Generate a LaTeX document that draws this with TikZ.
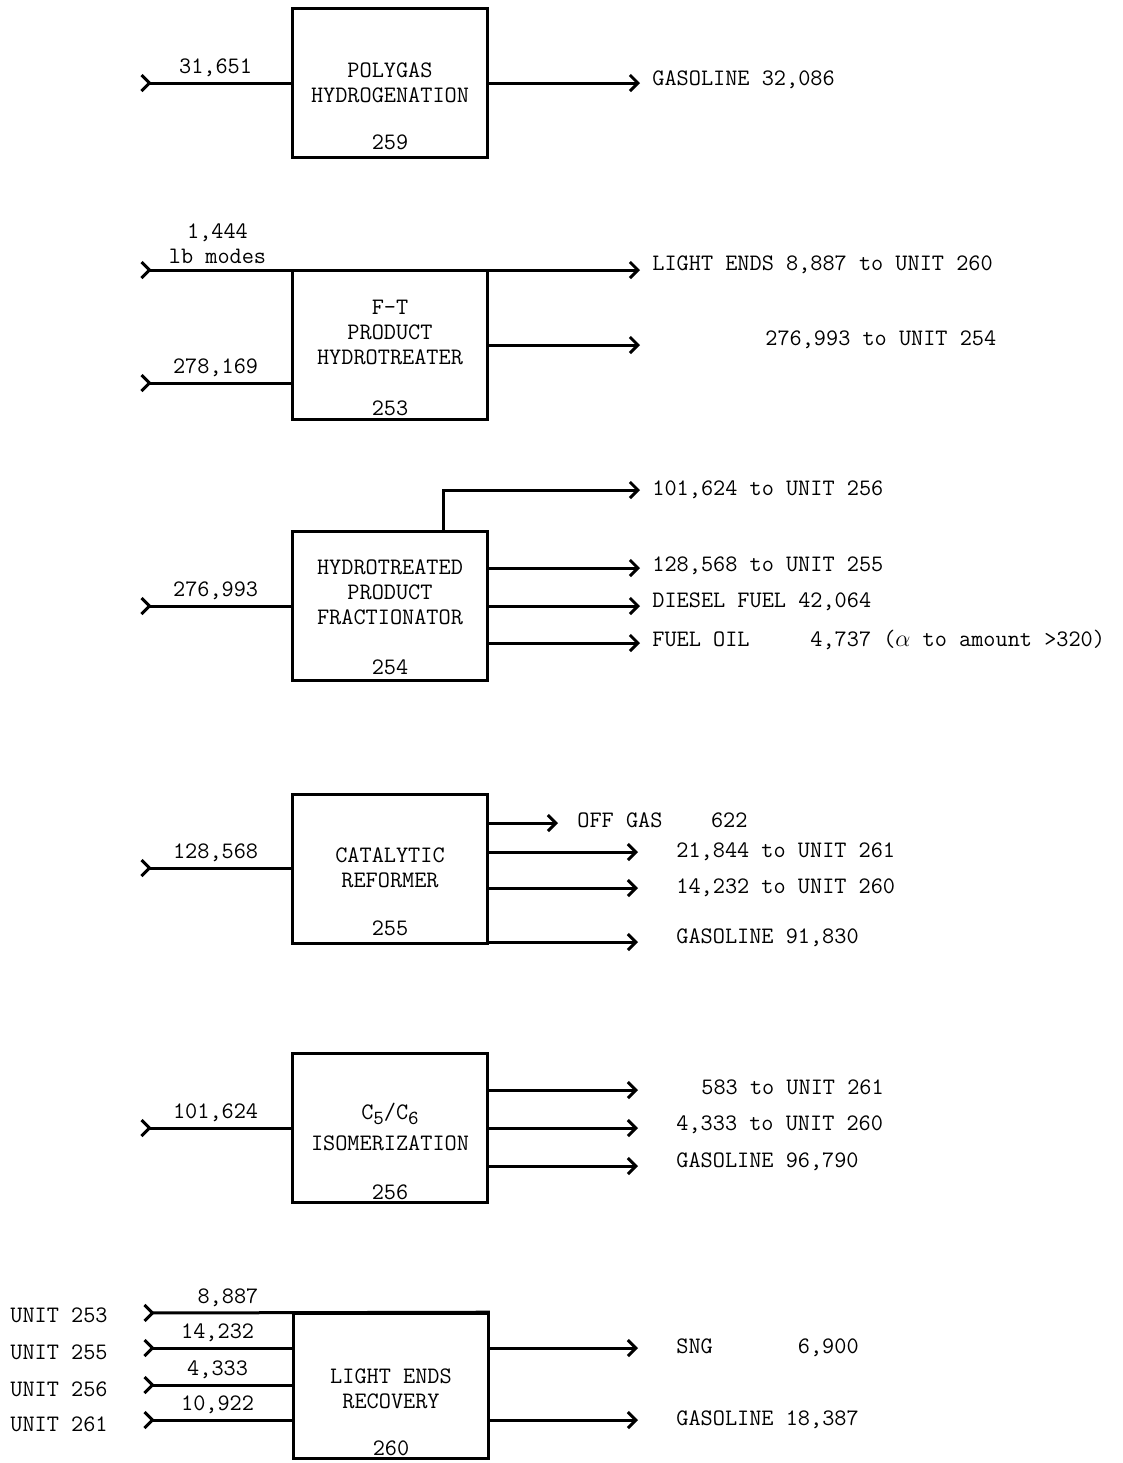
\documentclass[tikz,border=0pt]{standalone}
\usepackage{fontspec}
\usetikzlibrary{arrows.meta, positioning}

\begin{document}
\begin{tikzpicture}[
        x=0.5pt, y=-0.5pt,
        font=\ttfamily\fontsize{11.8}{12.5}\selectfont,
        unit/.style={draw, line width=1.3pt, minimum width=97.5pt, minimum height=74.5pt, inner sep=0pt},
        boxtext/.style={align=center, inner sep=0pt},
        tag/.style={anchor=west, inner sep=0pt},
        inlabel/.style={above, inner sep=2.5pt},
        flow/.style={line width=1.5pt, -{Straight Barb[length=4pt, width=8pt]}},
        feed/.style={line width=1.5pt, {Straight Barb[reversed, length=4pt, width=8pt]}-},
        feedflow/.style={line width=1.5pt, {Straight Barb[reversed, length=4pt, width=8pt]}-{Straight Barb[length=4pt, width=8pt]}}
    ]
        \useasboundingbox (0,0) rectangle (1123,1463);

        % Polygas hydrogenation
        \node[unit] (b259) at (390,83) {};
        \node[boxtext] (t259) at (390,83) {POLYGAS\\HYDROGENATION};
        \node[boxtext] (n259) at (390,142) {259};
        \coordinate (i259) at (140,83);
        \coordinate (o259) at (640,83);
        \draw[feed] (i259) -- (i259 -| b259.west) node[inlabel, midway] (l259) {31,651};
        \draw[flow] (o259 -| b259.east) -- (o259);
        \node[tag] (x259) at (652,80) {GASOLINE 32,086};

        % F-T product hydrotreater
        \node[unit] (b253) at (390,345) {};
        \node[boxtext] (t253) at (390,332) {F-T\\PRODUCT\\HYDROTREATER};
        \node[boxtext] (n253) at (390,408) {253};
        \coordinate (i1444) at (140,270);
        \coordinate (o8887) at (640,270);
        \coordinate (i253) at (140,383);
        \coordinate (o253) at (640,345);
        \draw[feedflow] (i1444) -- (o8887) node[inlabel, align=center, pos=0.155] (l1444) {1,444\\lb modes};
        \draw[feed] (i253) -- (i253 -| b253.west) node[inlabel, midway] (l253) {278,169};
        \draw[flow] (o253 -| b253.east) -- (o253);
        \node[tag] (x8887) at (652,265) {LIGHT ENDS 8,887 to UNIT 260};
        \node[tag] (x253) at (765,340) {276,993 to UNIT 254};

        % Hydrotreated product fractionator
        \node[unit] (b254) at (390,606) {};
        \node[boxtext] (t254) at (390,592) {HYDROTREATED\\PRODUCT\\FRACTIONATOR};
        \node[boxtext] (n254) at (390,667) {254};
        \coordinate (i254) at (140,606);
        \coordinate (o256) at (640,490);
        \coordinate (o255) at (640,568);
        \coordinate (odsl) at (640,606);
        \coordinate (ofo) at (640,643);
        \draw[feed] (i254) -- (i254 -| b254.west) node[inlabel, midway] (l254) {276,993};
        \draw[flow] (443,0 |- b254.north) |- (o256);
        \draw[flow] (o255 -| b254.east) -- (o255);
        \draw[flow] (odsl -| b254.east) -- (odsl);
        \draw[flow] (ofo -| b254.east) -- (ofo);
        \node[tag] (x256) at (652,490) {101,624 to UNIT 256};
        \node[tag] (x255) at (652,566) {128,568 to UNIT 255};
        \node[tag] (xdsl) at (652,602) {DIESEL FUEL 42,064};
        \node[tag] (xfo) at (652,640) {FUEL OIL\ \ \ \ \ 4,737 ($\alpha$ to amount >320)};

        % Catalytic reformer
        \node[unit] (b255) at (390,869) {};
        \node[boxtext] (t255) at (390,868) {CATALYTIC\\REFORMER};
        \node[boxtext] (n255) at (390,928) {255};
        \coordinate (i255) at (140,868);
        \coordinate (ooff) at (558,823);
        \coordinate (o261a) at (638,852);
        \coordinate (o260a) at (638,888);
        \coordinate (og255) at (638,942);
        \draw[feed] (i255) -- (i255 -| b255.west) node[inlabel, midway] (l255) {128,568};
        \draw[flow] (ooff -| b255.east) -- (ooff);
        \draw[flow] (o261a -| b255.east) -- (o261a);
        \draw[flow] (o260a -| b255.east) -- (o260a);
        \draw[flow] (og255 -| b255.east) -- (og255);
        \node[tag] (xoff) at (577,820) {OFF GAS\ \ \ \ 622};
        \node[tag] (x261a) at (676,852) {21,844 to UNIT 261};
        \node[tag] (x260a) at (676,888) {14,232 to UNIT 260};
        \node[tag] (xg255) at (676,938) {GASOLINE 91,830};

        % C5/C6 isomerization
        \node[unit] (b256) at (390,1128) {};
        \node[boxtext] (t256) at (390,1127) {C\raisebox{-0.45ex}{\fontsize{10}{10}\selectfont 5}/C\raisebox{-0.45ex}{\fontsize{10}{10}\selectfont 6}\\[3pt]ISOMERIZATION};
        \node[boxtext] (n256) at (390,1192) {256};
        \coordinate (i256) at (140,1128);
        \coordinate (o261b) at (638,1090);
        \coordinate (o260b) at (638,1128);
        \coordinate (og256) at (638,1166);
        \draw[feed] (i256) -- (i256 -| b256.west) node[inlabel, midway] (l256) {101,624};
        \draw[flow] (o261b -| b256.east) -- (o261b);
        \draw[flow] (o260b -| b256.east) -- (o260b);
        \draw[flow] (og256 -| b256.east) -- (og256);
        \node[tag] (x261b) at (701,1087) {583 to UNIT 261};
        \node[tag] (x260b) at (676,1125) {4,333 to UNIT 260};
        \node[tag] (xg256) at (676,1162) {GASOLINE 96,790};

        % Light ends recovery
        \node[unit, minimum height=72.5pt] (b260) at (391,1386) {};
        \node[boxtext] (t260) at (391,1389) {LIGHT ENDS\\RECOVERY};
        \node[boxtext] (n260) at (391,1448) {260};
        \coordinate (f253) at (143,1313);
        \coordinate (f255) at (143,1348);
        \coordinate (f256) at (143,1385);
        \coordinate (f261) at (143,1420);
        \coordinate (osng) at (638,1348);
        \coordinate (og260) at (638,1420);
        \draw[feed] (f253) -- (b260.north east) node[inlabel, pos=0.245] (l8887) {8,887};
        \draw[feed] (f255) -- (f255 -| b260.west) node[inlabel, midway] (l14232) {14,232};
        \draw[feed] (f256) -- (f256 -| b260.west) node[inlabel, midway] (l4333) {4,333};
        \draw[feed] (f261) -- (f261 -| b260.west) node[inlabel, midway] (l10922) {10,922};
        \node[tag] (u253) at (10,1315) {UNIT 253};
        \node[tag] (u255) at (10,1352) {UNIT 255};
        \node[tag] (u256) at (10,1389) {UNIT 256};
        \node[tag] (u261) at (10,1424) {UNIT 261};
        \draw[flow] (osng -| b260.east) -- (osng);
        \draw[flow] (og260 -| b260.east) -- (og260);
        \node[tag] (xsng) at (676,1348) {SNG\ \ \ \ \ \ \ 6,900};
        \node[tag] (xg260) at (676,1420) {GASOLINE 18,387};

    \end{tikzpicture}
\end{document}
